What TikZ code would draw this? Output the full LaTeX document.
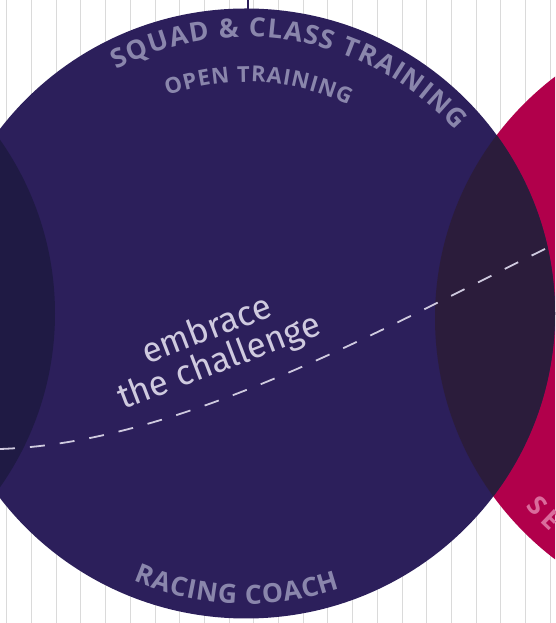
\documentclass[tikz,border=0pt]{standalone}
\usepackage{fontspec}
\setmainfont{Fira Sans}
\newfontfamily\capsfamily{Open Sans}
\usetikzlibrary{decorations.text}

\definecolor{squadpurple}{HTML}{2C1F5B}
\definecolor{squadred}{HTML}{B1004B}
\definecolor{darkplum}{HTML}{2B1C3B}
\definecolor{darknavy}{HTML}{1F1A44}
\definecolor{ringgray}{HTML}{8A86AC}
\definecolor{ringpink}{HTML}{DA6C9C}
\definecolor{mottogray}{HTML}{CFCADF}
\definecolor{gridgray}{HTML}{DADADA}

\newcommand\ringfont{\capsfamily\bfseries\fontsize{26.5}{26.5}\selectfont}
\newcommand\innerfont{\capsfamily\bfseries\fontsize{22}{22}\selectfont}

\tikzset{
    gridline/.style={draw=gridgray, line width=0.8pt},
    dashline/.style={draw=mottogray, line width=1.8pt, dash pattern=on 15pt off 15pt},
    ringtext/.style={decorate, decoration={text along path, text align=fit to path, text color=#1}},
    ringshape/.style={x radius=309pt, y radius=305pt},
    mottostyle/.style={text=mottogray, align=center, font=\fontsize{35}{34}\selectfont, inner sep=0pt}
}

\begin{document}
\begin{tikzpicture}[x=1pt, y=1pt]
    % Frame
    \useasboundingbox (0,0) rectangle (555,623);
    \fill[white] (0,0) rectangle (555,623);
    \clip (0,0) rectangle (555,623);

    % Grid
    \foreach \i in {0,...,22}
        \draw[gridline] ({6.7+24.7*\i},0) -- ({6.7+24.7*\i},623);

    % Centres
    \coordinate (mainc) at (246,309.5);
    \coordinate (redc) at (744,305);
    \coordinate (leftc) at (-254,309.5);
    \coordinate (textc) at (247,308);

    % Circles
    \fill[squadred] (redc) ellipse [ringshape];
    \fill[squadred] (leftc) ellipse [ringshape];
    \fill[squadpurple] (mainc) ellipse [ringshape];
    \begin{scope}
        \clip (mainc) ellipse [ringshape];
        \fill[darkplum] (redc) ellipse [ringshape];
        \fill[darknavy] (leftc) ellipse [ringshape];
    \end{scope}

    % Tick on top
    \draw[squadpurple, line width=1.2pt] (248,623) -- (248,612);

    % Dashed line
    \draw[dashline] (0,174) .. controls (180,180) and (380,293) .. (555,379);

    % Ring labels
    \path[ringtext=ringgray, decoration={text={|\ringfont|SQUAD {\&} CLASS TRAINING}}]
        (textc) ++(118:278) arc[start angle=118, end angle=41.5, radius=278pt];
    \path[ringtext=ringgray, decoration={text={|\innerfont|OPEN TRAINING}}]
        (textc) ++(110:233) arc[start angle=110, end angle=64.2, radius=233pt];
    \path[ringtext=ringgray, decoration={text={|\ringfont|RACING COACH}}]
        (textc) ++(246.8:289) arc[start angle=246.8, end angle=288.8, radius=289pt];
    \path[ringtext=ringpink, decoration={text={|\ringfont|SE}}]
        (redc) ++(220.8:289) arc[start angle=220.8, end angle=227.8, radius=289pt];

    % Motto
    \node (motto) [mottostyle, rotate=21] at (213.5,276) {embrace\\the challenge};
\end{tikzpicture}
\end{document}
